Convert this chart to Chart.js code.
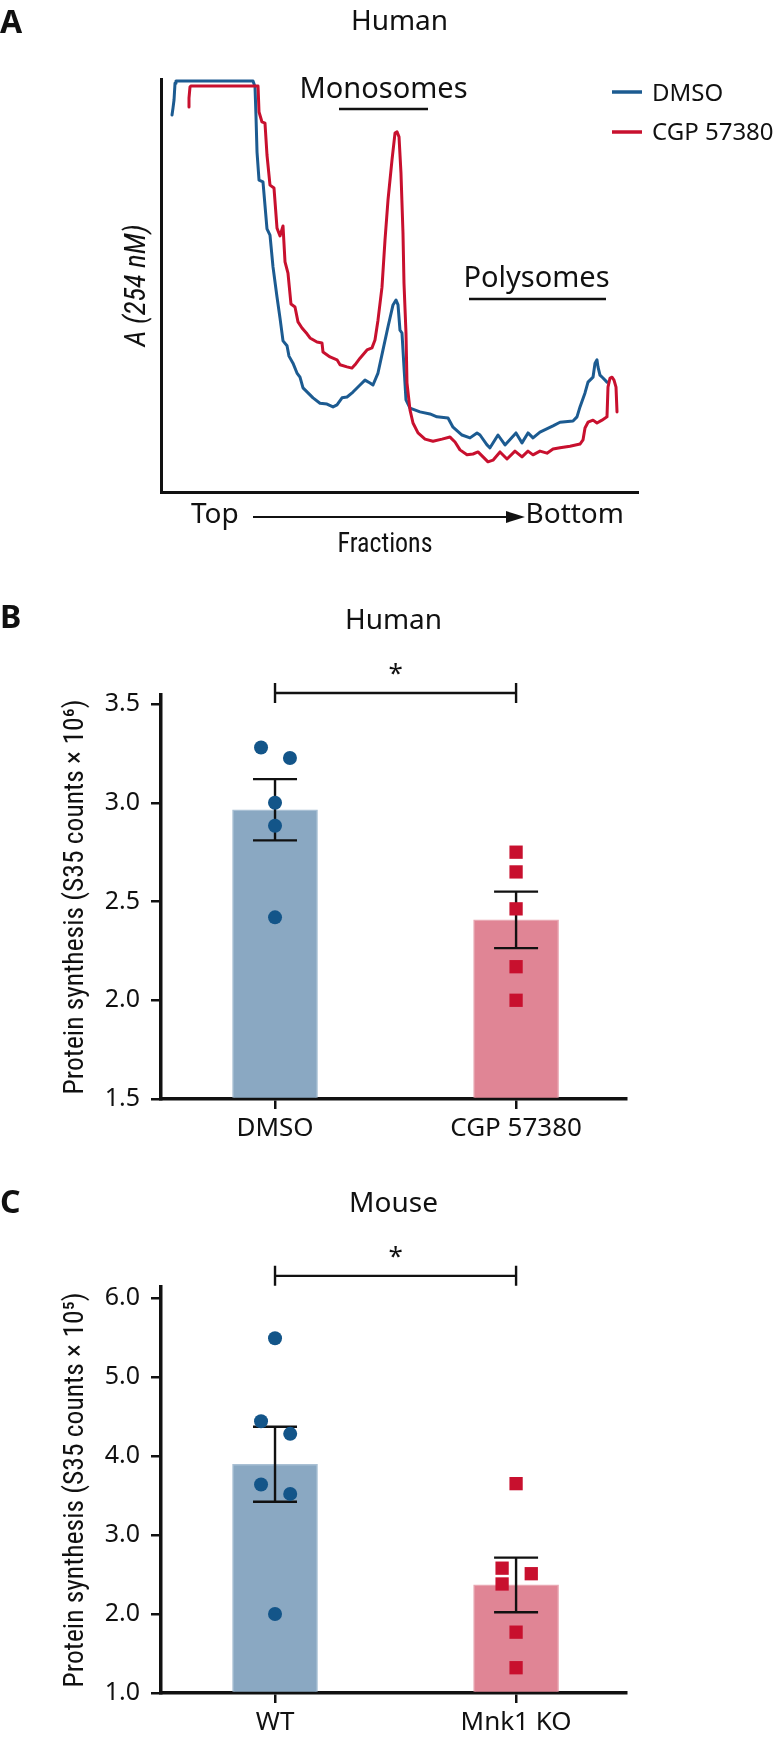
<!DOCTYPE html>
<html><head><meta charset="utf-8">
<script src="https://cdn.jsdelivr.net/npm/chart.js@4.4.1/dist/chart.umd.min.js"></script>
<style>
html,body{margin:0;padding:0;background:#fff;}
body{width:776px;height:1739px;position:relative;overflow:hidden;font-family:'Noto Sans',sans-serif;color:#111;}
canvas{position:absolute;left:0;}
.t{position:absolute;white-space:nowrap;line-height:1;font-family:'Noto Sans',sans-serif;color:#111;}
.c{transform:translateX(-50%);}
.L{font-size:32px;font-weight:700;}
svg{position:absolute;left:0;top:0;}
</style></head><body>
<canvas id="cA" width="776" height="580" style="top:0px"></canvas>
<canvas id="cB" width="776" height="580" style="top:580px"></canvas>
<canvas id="cC" width="776" height="579" style="top:1160px"></canvas>

<svg width="776" height="1739">
  <line x1="339" y1="109" x2="428" y2="109" stroke="#111" stroke-width="2.5"/>
  <line x1="469" y1="299" x2="606" y2="299" stroke="#111" stroke-width="2.5"/>
  <line x1="612" y1="92" x2="642" y2="92" stroke="#1c5b91" stroke-width="3.5"/>
  <line x1="612" y1="132" x2="642" y2="132" stroke="#c8102e" stroke-width="3.5"/>
  <line x1="253" y1="517" x2="509" y2="517" stroke="#111" stroke-width="2.2"/>
  <polygon points="506,511 525,517 506,523" fill="#111"/>
</svg>

<div class="t L" style="left:0px;top:4.6px">A</div>
<div class="t L" style="left:0px;top:599.6px">B</div>
<div class="t L" style="left:0px;top:1185px">C</div>
<div class="t c" style="left:383.5px;top:72.2px;font-size:29px">Monosomes</div>
<div class="t c" style="left:536.5px;top:261.2px;font-size:29px">Polysomes</div>
<div class="t" style="left:652px;top:80.4px;font-size:24px">DMSO</div>
<div class="t" style="left:652px;top:118.7px;font-size:24px">CGP 57380</div>
<div class="t" style="left:191px;top:498.4px;font-size:28px">Top</div>
<div class="t" style="left:525.5px;top:498.4px;font-size:28px">Bottom</div>

<script>
// ---------- Panel A: polysome profiles (relative position along gradient, A254 in arbitrary units)
const fracDMSO = [2.31,2.52,2.73,2.94,3.14,19.29,19.71,19.92,20.13,20.55,21.38,22.22,22.85,23.48,24.32,24.95,25.58,26.42,26.83,27.67,28.51,29.14,29.77,30.82,31.87,33.33,34.80,36.06,36.90,37.95,39.00,40.25,41.72,42.77,43.82,44.44,45.49,46.54,47.59,48.64,49.27,49.69,50.10,50.52,50.94,51.36,52.20,54.30,56.39,57.86,60.17,61.22,63.10,64.78,66.25,66.88,68.34,68.97,70.65,72.12,74.42,75.68,76.94,77.99,79.45,82.18,83.65,86.37,87.21,87.84,88.89,89.52,90.57,90.99,91.40,91.61,92.03,92.66,93.50];
const absDMSO = [91.3,93.0,94.9,99.0,99.5,99.5,98.1,90.8,82.3,75.5,75.1,63.7,62.2,54.5,47.2,42.1,36.6,35.4,32.9,31.2,28.8,27.8,25.2,24.0,22.8,21.5,21.3,20.6,21.1,22.8,23.0,24.2,25.9,27.1,26.4,25.9,28.8,34.4,40.0,45.3,46.5,45.3,39.2,38.5,30.3,22.3,20.3,19.4,18.9,18.2,17.9,15.7,13.8,13.1,14.3,13.8,11.4,10.7,13.8,11.4,14.3,11.9,14.3,13.1,14.5,16.0,16.9,17.2,18.2,20.6,24.0,26.6,27.8,31.2,32.0,30.3,28.3,27.6,26.6];
const fracCGP = [5.87,5.87,6.08,6.29,20.34,20.55,21.17,21.80,22.22,22.85,23.69,24.32,24.95,25.58,26.00,26.62,27.25,28.09,28.72,29.56,30.61,31.24,32.70,33.75,33.96,35.43,36.90,37.53,38.99,40.04,40.67,41.72,43.19,44.23,44.86,45.49,46.33,46.96,47.59,48.43,49.06,49.48,49.90,50.31,50.73,50.94,51.36,51.57,52.20,52.83,53.88,55.35,57.02,58.91,60.59,61.64,62.68,64.15,65.41,66.46,67.51,68.55,69.60,71.07,72.54,74.21,75.68,76.94,77.99,79.45,80.92,82.18,83.65,85.74,87.84,88.47,88.89,89.52,90.57,91.40,92.45,93.50,93.71,94.13,94.55,94.97,95.39,95.60];
const absCGP = [93.2,95.4,98.1,98.3,98.3,92.0,89.6,89.3,81.6,74.3,73.6,63.9,62.0,64.4,55.7,53.0,45.5,44.8,41.2,39.7,38.3,37.3,36.3,36.1,33.9,32.7,32.0,30.8,30.3,30.0,30.8,32.4,34.4,34.9,36.8,41.6,49.6,61.0,70.7,80.4,86.9,87.2,86.0,77.2,62.7,50.6,38.5,26.4,19.9,16.7,14.3,12.8,12.3,12.8,13.3,12.1,10.2,9.0,9.2,9.7,8.5,7.3,7.7,9.7,8.0,9.9,8.5,9.9,9.0,9.9,9.4,10.4,10.7,11.1,11.6,12.6,15.5,16.9,17.4,16.7,17.4,18.2,25.4,27.6,27.8,27.1,25.4,19.4];
const seriesA = ['DMSO','CGP 57380'];

// ---------- Panel B: human, S35 counts x10^6
const catsB = ['DMSO','CGP 57380'];
const meanB = [2.965, 2.407];
const semB  = [0.155, 0.143];
const ptsB_DMSO = [3.28, 3.227, 3.0, 2.884, 2.42];
const jitB_DMSO = [-0.058, 0.062, 0, 0, 0];
const ptsB_CGP  = [2.75, 2.65, 2.463, 2.17, 2.0];
const jitB_CGP  = [0, 0, 0, 0, 0];
const ticksB = [1.5, 2.0, 2.5, 3.0, 3.5];
const sigB = 3.556;

// ---------- Panel C: mouse, S35 counts x10^5
const catsC = ['WT','Mnk1 KO'];
const meanC = [3.895, 2.368];
const semC  = [0.475, 0.345];
const ptsC_WT = [5.49, 4.44, 4.28, 3.64, 3.52, 2.0];
const jitC_WT = [0, -0.058, 0.063, -0.058, 0.063, 0];
const ptsC_KO = [3.65, 2.58, 2.51, 2.38, 1.77, 1.32];
const jitC_KO = [0, -0.058, 0.063, -0.058, 0, 0];
const ticksC = [1, 2, 3, 4, 5, 6];
const sigC = 6.28;

// ---------- styling
const MAIN = "'Noto Sans', sans-serif";
const BLUE_LINE = '#1c5b91', RED_LINE = '#c8102e';
const BLUE_BAR = '#8aa8c2', RED_BAR = '#e08595';
const BLUE_PT = '#135589', RED_PT = '#c8102e';
const INK = '#111';

const titleAY = 'A (254 nM)';
const titleAX = 'Fractions';
const titleBY = 'Protein synthesis (S35 counts \u00d7 10\u2076)';
const titleCY = 'Protein synthesis (S35 counts \u00d7 10\u2075)';

// pick a condensed family if one is installed, else fall back to Noto Sans and compress horizontally
const probe = document.createElement('canvas').getContext('2d');
function hasFont(f) {
  probe.font = '40px monospace'; const a = probe.measureText('Protein synthesis Wy').width;
  probe.font = `40px '${f}', monospace`; const b = probe.measureText('Protein synthesis Wy').width;
  return Math.abs(a - b) > 0.5;
}
const narrowCands = ['Liberation Sans Narrow', 'Arial Narrow', 'Roboto Condensed', 'Noto Sans Condensed', 'Open Sans Condensed'];
const narrowFam = narrowCands.find(hasFont) || 'Noto Sans';
const NARROW = `'${narrowFam}', 'Noto Sans', sans-serif`;
// target rendered widths (px) and horizontal nudge of the condensed texts
const condenseTargets = [[titleAY, 'italic 29px', 122, 0], [titleAX, '27px', 95, -14.5], [titleBY, '28px', 395, 0], [titleCY, '28px', 395, 0]];
const condensedTexts = {};
condenseTargets.forEach(([t, f, w, dx]) => {
  probe.font = `${f} ${NARROW}`;
  const m = probe.measureText(t).width;
  condensedTexts[t] = { k: Math.max(0.5, Math.min(1.2, w / m)), dx };
});

Chart.register({
  id: 'condense',
  beforeInit(chart) {
    const ctx = chart.ctx;
    const orig = ctx.fillText.bind(ctx);
    ctx.fillText = function (t, x, y, mw) {
      const c = condensedTexts[t];
      if (c) { ctx.save(); ctx.translate(x, y); ctx.scale(c.k, 1); orig(t, c.dx / c.k, 0); ctx.restore(); }
      else if (mw !== undefined) orig(t, x, y, mw); else orig(t, x, y);
    };
  }
});

Chart.defaults.font.family = MAIN;
Chart.defaults.color = INK;
Chart.defaults.animation = false;

// Panel A
new Chart(document.getElementById('cA'), {
  type: 'line',
  data: { datasets: [
    { label: seriesA[0], data: fracDMSO.map((x,i)=>({x, y: absDMSO[i]})), borderColor: BLUE_LINE, borderWidth: 3,
      pointRadius: 0, tension: 0, borderJoinStyle: 'round', borderCapStyle: 'round', order: 1 },
    { label: seriesA[1], data: fracCGP.map((x,i)=>({x, y: absCGP[i]})), borderColor: RED_LINE, borderWidth: 3,
      pointRadius: 0, tension: 0, borderJoinStyle: 'round', borderCapStyle: 'round', order: 0 }
  ]},
  options: {
    responsive: false, animation: false,
    layout: { padding: { left: 118, right: 138, top: 0, bottom: 0 } },
    plugins: {
      legend: { display: false }, tooltip: { enabled: false },
      title: { display: true, text: 'Human', fullSize: false, color: INK,
               font: { family: MAIN, size: 28, weight: 'normal', lineHeight: 1.2 },
               padding: { top: 5.6, bottom: 39.8 } }
    },
    scales: {
      x: { type: 'linear', min: 0, max: 100, ticks: { display: false }, grid: { display: false },
           border: { color: INK, width: 3 },
           title: { display: true, text: titleAX, color: INK, font: { family: NARROW, size: 27, lineHeight: 1.2 },
                    padding: { top: 0, bottom: 18.2 } },
           afterFit(s) { s.height = 88; } },
      y: { type: 'linear', min: 0, max: 100, ticks: { display: false }, grid: { display: false },
           border: { color: INK, width: 3 },
           title: { display: true, text: titleAY, color: INK,
                    font: { family: NARROW, size: 29, style: 'italic', lineHeight: 1.2 },
                    padding: { top: 2.1, bottom: 0 } },
           afterFit(s) { s.width = 43; } }
    }
  }
});

function statsPlugin(means, sems, sigY) {
  return {
    id: 'stats',
    afterDatasetDraw(chart, args) {
      if (args.index !== 0) return;
      const { ctx, scales: { x, y } } = chart;
      ctx.save();
      ctx.strokeStyle = INK; ctx.lineWidth = 2.4; ctx.lineCap = 'butt';
      means.forEach((m, i) => {
        const px = x.getPixelForValue(i);
        const hi = y.getPixelForValue(m + sems[i]);
        const lo = y.getPixelForValue(m - sems[i]);
        ctx.beginPath();
        ctx.moveTo(px, hi); ctx.lineTo(px, lo);
        ctx.moveTo(px - 22, hi); ctx.lineTo(px + 22, hi);
        ctx.moveTo(px - 22, lo); ctx.lineTo(px + 22, lo);
        ctx.stroke();
      });
      ctx.restore();
    },
    afterDraw(chart) {
      const { ctx, scales: { x, y } } = chart;
      const yb = y.getPixelForValue(sigY);
      const x0 = x.getPixelForValue(0), x1 = x.getPixelForValue(1);
      ctx.save();
      ctx.strokeStyle = INK; ctx.lineWidth = 2.4;
      ctx.beginPath();
      ctx.moveTo(x0, yb); ctx.lineTo(x1, yb);
      ctx.moveTo(x0, yb - 10); ctx.lineTo(x0, yb + 10);
      ctx.moveTo(x1, yb - 10); ctx.lineTo(x1, yb + 10);
      ctx.stroke();
      ctx.fillStyle = INK; ctx.font = "26px " + MAIN;
      ctx.textAlign = 'center'; ctx.textBaseline = 'alphabetic';
      ctx.fillText('*', (x0 + x1) / 2, yb - 26 + 15.2);
      ctx.restore();
    }
  };
}

function barChart(id, cats, means, sems, g1, j1, g2, j2, yTicks, yMin, yMax, titleText, titlePad, yTitle, xAxisH, sigY) {
  const gridY = { display: true, drawOnChartArea: false, drawTicks: true, tickLength: 10, color: INK, lineWidth: 2.5 };
  const gridX = { display: true, drawOnChartArea: false, drawTicks: true, tickLength: 10, color: INK, lineWidth: 2.5, offset: false };
  new Chart(document.getElementById(id), {
    type: 'bar',
    data: { datasets: [
      { type: 'bar', data: means.map((m, i) => ({ x: i, y: m })), backgroundColor: [BLUE_BAR, RED_BAR],
        borderColor: ['#a9c0d4', '#e9a7b2'], borderWidth: 1.5, barThickness: 85, base: yMin, order: 2 },
      { type: 'scatter', data: g1.map((v, k) => ({ x: 0 + j1[k], y: v })), pointStyle: 'circle', pointRadius: 7,
        backgroundColor: BLUE_PT, borderWidth: 0, order: 1 },
      { type: 'scatter', data: g2.map((v, k) => ({ x: 1 + j2[k], y: v })), pointStyle: 'rect', pointRadius: 9.4,
        backgroundColor: RED_PT, borderWidth: 0, order: 1 }
    ]},
    options: {
      responsive: false, animation: false,
      layout: { padding: { left: 57, right: 150, top: 0, bottom: 0 } },
      plugins: {
        legend: { display: false }, tooltip: { enabled: false },
        title: { display: true, text: titleText, fullSize: false, color: INK,
                 font: { family: MAIN, size: 28, weight: 'normal', lineHeight: 1.2 }, padding: titlePad }
      },
      scales: {
        x: { type: 'linear', min: -0.473, max: 1.456, offset: false, bounds: 'data',
             afterBuildTicks(s) { s.ticks = cats.map((c, i) => ({ value: i })); },
             ticks: { callback: (v, i) => cats[i], font: { size: 26, lineHeight: 1.2 }, padding: 3.5,
                      maxRotation: 0, autoSkip: false, color: INK },
             grid: gridX, border: { color: INK, width: 3.5 },
             afterFit(s) { s.height = xAxisH; } },
        y: { type: 'linear', min: yMin, max: yMax,
             afterBuildTicks(s) { s.ticks = yTicks.map(v => ({ value: v })); },
             ticks: { callback: v => Number(v).toFixed(1), font: { size: 25, lineHeight: 1.2 }, padding: 11, color: INK },
             grid: gridY, border: { color: INK, width: 3.5 },
             title: { display: true, text: yTitle, color: INK, font: { family: NARROW, size: 28, lineHeight: 1.2 },
                      padding: { top: 2.2, bottom: 0 } },
             afterFit(s) { s.width = 104; } }
      }
    },
    plugins: [statsPlugin(means, sems, sigY)]
  });
}

barChart('cB', catsB, meanB, semB, ptsB_DMSO, jitB_DMSO, ptsB_CGP, jitB_CGP, ticksB, 1.5, 3.546,
         'Human', { top: 24.3, bottom: 57.1 }, titleBY, 61, sigB);
barChart('cC', catsC, meanC, semC, ptsC_WT, jitC_WT, ptsC_KO, jitC_KO, ticksC, 1.0, 6.139,
         'Mouse', { top: 27.3, bottom: 66.1 }, titleCY, 46, sigC);
</script>
</body></html>
